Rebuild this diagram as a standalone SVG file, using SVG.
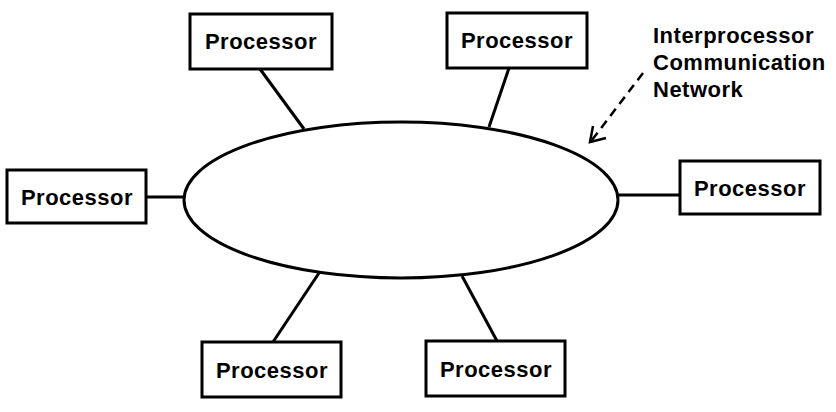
<svg xmlns="http://www.w3.org/2000/svg" width="836" height="412" viewBox="0 0 836 412">
<style>
.box{fill:#fff;stroke:#000;stroke-width:3}
.lbl{font-family:"Liberation Sans",Arial,sans-serif;font-weight:bold;font-size:22px;letter-spacing:0.5px;fill:#000;text-anchor:middle}
.note{font-family:"Liberation Sans",Arial,sans-serif;font-weight:bold;font-size:22px;letter-spacing:0.5px;fill:#000}
.ln{stroke:#000;stroke-width:3;fill:none}
</style>
<rect width="836" height="412" fill="#fff"/>
<g id="connectors">
<line class="ln" x1="260" y1="69" x2="304" y2="129"/>
<line class="ln" x1="509" y1="68" x2="489" y2="127"/>
<line class="ln" x1="146" y1="197" x2="184" y2="197"/>
<line class="ln" x1="618" y1="195" x2="680" y2="195"/>
<line class="ln" x1="273" y1="342" x2="319" y2="273"/>
<line class="ln" x1="497" y1="341" x2="462" y2="276"/>
<line x1="643" y1="73" x2="592" y2="140" stroke="#000" stroke-width="2.5" stroke-dasharray="9,6"/>
<polyline points="593,126 590,142 606,138" fill="none" stroke="#000" stroke-width="2.5"/>
</g>
<g id="network">
<ellipse cx="401" cy="200" rx="217" ry="78" fill="#fff" stroke="#000" stroke-width="3"/>
</g>
<g id="p1"><rect class="box" x="190" y="14" width="142" height="55"/><text class="lbl" x="261" y="49">Processor</text></g>
<g id="p2"><rect class="box" x="447" y="13" width="140" height="55"/><text class="lbl" x="517" y="48">Processor</text></g>
<g id="p3"><rect class="box" x="7" y="170" width="139" height="53"/><text class="lbl" x="77" y="205">Processor</text></g>
<g id="p4"><rect class="box" x="680" y="161" width="140" height="53"/><text class="lbl" x="750" y="196">Processor</text></g>
<g id="p5"><rect class="box" x="202" y="342" width="139" height="55"/><text class="lbl" x="272" y="378">Processor</text></g>
<g id="p6"><rect class="box" x="426" y="341" width="139" height="55"/><text class="lbl" x="496" y="377">Processor</text></g>
<g id="label">
<text class="note" x="653" y="43">Interprocessor</text>
<text class="note" x="653" y="70">Communication</text>
<text class="note" x="653" y="97">Network</text>
</g>
</svg>
